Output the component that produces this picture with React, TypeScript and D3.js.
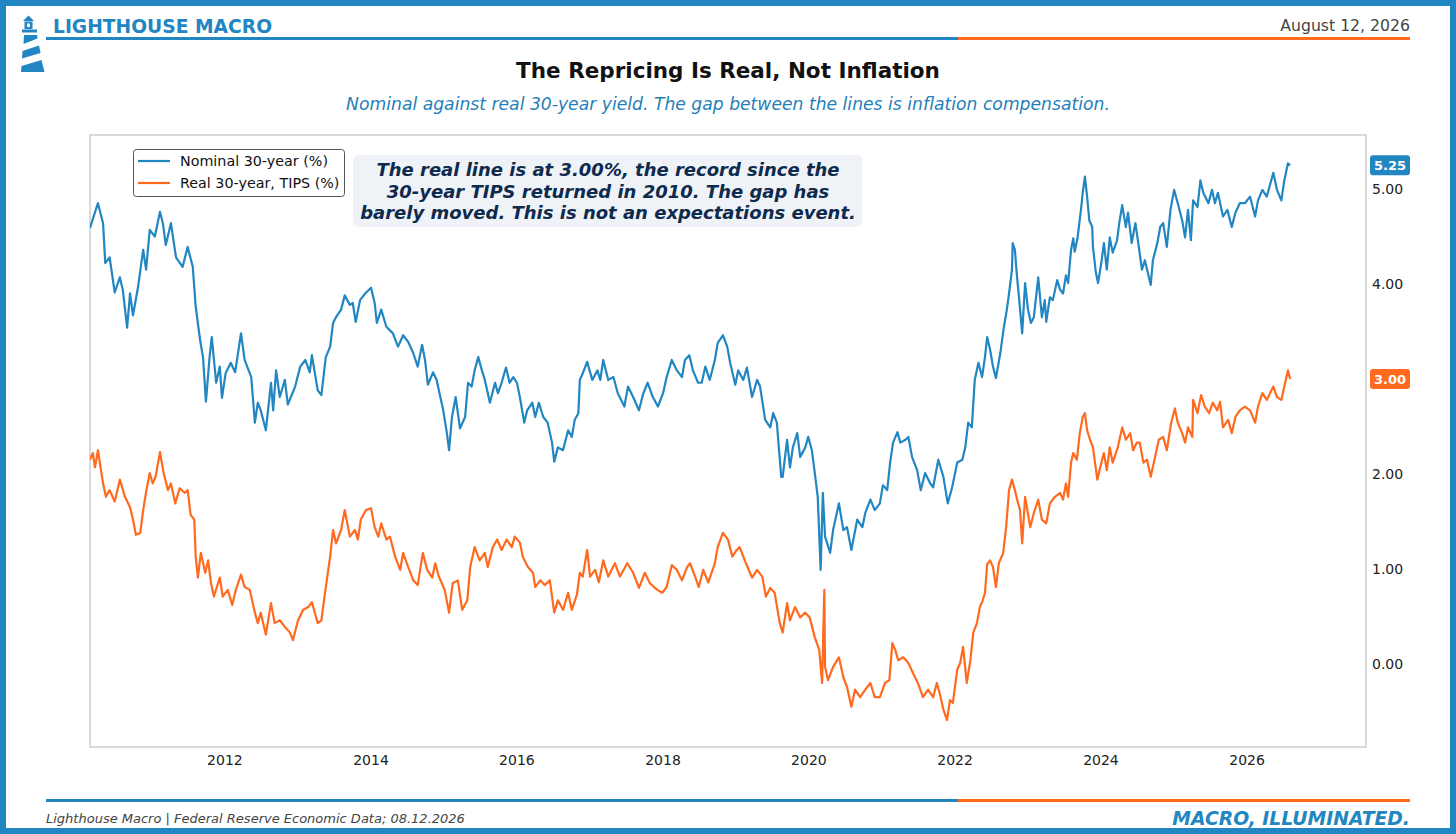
import { useEffect, useRef } from 'react';
import * as d3 from 'd3';

const W = 1456;
const H = 834;
const PLOT = { left: 90, right: 1366, top: 135, bottom: 747 };
const BLUE = '#2186c1';
const ORANGE = '#ff6a1e';
const NAVY = '#0e2a4d';

// Nominal 30-year Treasury yield (%), decimal years
const NOMINAL_T = [
  2010.15, 2010.26, 2010.33, 2010.36, 2010.42, 2010.49, 2010.56, 2010.6, 2010.66, 2010.7, 2010.74, 2010.81, 2010.88, 2010.92, 2010.97,
  2011.04, 2011.11, 2011.15, 2011.19, 2011.26, 2011.33, 2011.42, 2011.49, 2011.56, 2011.6, 2011.66, 2011.7, 2011.74, 2011.79, 2011.82, 2011.88, 2011.93, 2011.96,
  2012.01, 2012.08, 2012.14, 2012.22, 2012.27, 2012.36, 2012.41, 2012.45, 2012.49, 2012.56, 2012.63, 2012.66, 2012.7, 2012.75, 2012.82, 2012.86, 2012.96,
  2013.03, 2013.1, 2013.16, 2013.19, 2013.27, 2013.32, 2013.38, 2013.44, 2013.48, 2013.52, 2013.59, 2013.64, 2013.71, 2013.75, 2013.79, 2013.85, 2013.92,
  2014.0, 2014.05, 2014.08, 2014.14, 2014.21, 2014.3, 2014.37, 2014.44, 2014.51, 2014.58, 2014.64, 2014.7, 2014.74, 2014.78, 2014.85, 2014.9, 2014.95, 2014.99,
  2015.04, 2015.07, 2015.11, 2015.16, 2015.22, 2015.29, 2015.33, 2015.38, 2015.42, 2015.47, 2015.52, 2015.56, 2015.63, 2015.7, 2015.74, 2015.79, 2015.85, 2015.9, 2015.95,
  2016.0, 2016.04, 2016.1, 2016.14, 2016.21, 2016.25, 2016.3, 2016.36, 2016.42, 2016.48, 2016.51, 2016.56, 2016.63, 2016.7, 2016.75, 2016.79, 2016.84, 2016.86, 2016.9, 2016.96,
  2017.03, 2017.1, 2017.14, 2017.18, 2017.25, 2017.32, 2017.38, 2017.47, 2017.52, 2017.59, 2017.67, 2017.73, 2017.79, 2017.86, 2017.93,
  2018.0, 2018.05, 2018.12, 2018.19, 2018.26, 2018.3, 2018.36, 2018.41, 2018.48, 2018.53, 2018.58, 2018.64, 2018.71, 2018.75, 2018.82, 2018.88, 2018.92, 2018.99,
  2019.03, 2019.1, 2019.15, 2019.22, 2019.29, 2019.33, 2019.4, 2019.47, 2019.51, 2019.56, 2019.62, 2019.64, 2019.7, 2019.74, 2019.78, 2019.84, 2019.88, 2019.95, 2019.99,
  2020.04, 2020.08, 2020.12, 2020.16, 2020.19, 2020.22, 2020.29, 2020.33, 2020.41, 2020.47, 2020.52, 2020.58, 2020.66, 2020.73, 2020.77, 2020.84, 2020.9, 2020.97,
  2021.01, 2021.07, 2021.11, 2021.15, 2021.21, 2021.25, 2021.32, 2021.36, 2021.41, 2021.48, 2021.53, 2021.59, 2021.66, 2021.7, 2021.77, 2021.84, 2021.9, 2021.96,
  2022.03, 2022.1, 2022.14, 2022.18, 2022.23, 2022.27, 2022.32, 2022.37, 2022.41, 2022.44, 2022.48, 2022.52, 2022.56, 2022.62, 2022.67, 2022.71, 2022.74, 2022.78, 2022.79, 2022.82, 2022.85, 2022.88, 2022.92, 2022.96,
  2023.0, 2023.04, 2023.08, 2023.14, 2023.19, 2023.23, 2023.25, 2023.3, 2023.34, 2023.4, 2023.44, 2023.48, 2023.52, 2023.55, 2023.59, 2023.62, 2023.64, 2023.68, 2023.73, 2023.75, 2023.78, 2023.81, 2023.84, 2023.88, 2023.89, 2023.93, 2023.96,
  2024.01, 2024.04, 2024.08, 2024.12, 2024.16, 2024.22, 2024.25, 2024.29, 2024.34, 2024.37, 2024.42, 2024.47, 2024.51, 2024.56, 2024.6, 2024.64, 2024.68, 2024.71, 2024.77, 2024.81, 2024.85, 2024.9, 2024.95,
  2025.0, 2025.05, 2025.11, 2025.15, 2025.19, 2025.23, 2025.26, 2025.32, 2025.36, 2025.4, 2025.47, 2025.52, 2025.56, 2025.6, 2025.67, 2025.73, 2025.79, 2025.84, 2025.9, 2025.97,
  2026.04, 2026.11, 2026.15, 2026.21, 2026.27, 2026.36, 2026.41, 2026.47, 2026.51, 2026.56, 2026.59,
];
const NOMINAL = [
  4.59, 4.85, 4.64, 4.22, 4.28, 3.91, 4.07, 3.94, 3.54, 3.9, 3.67, 3.97, 4.36, 4.15, 4.57,
  4.5, 4.76, 4.64, 4.41, 4.64, 4.28, 4.18, 4.39, 4.18, 3.76, 3.41, 3.23, 2.76, 3.23, 3.44, 2.96, 3.13, 2.8,
  3.06, 3.17, 3.07, 3.48, 3.2, 3.02, 2.54, 2.75, 2.67, 2.46, 2.96, 2.67, 3.09, 2.81, 2.99, 2.73, 2.92,
  3.13, 3.2, 3.07, 3.25, 2.88, 2.83, 3.23, 3.34, 3.59, 3.65, 3.73, 3.88, 3.78, 3.8, 3.6, 3.83, 3.9,
  3.96, 3.8, 3.59, 3.73, 3.55, 3.48, 3.34, 3.46, 3.39, 3.27, 3.13, 3.36, 3.2, 2.94, 3.07, 2.99, 2.81, 2.67,
  2.43, 2.25, 2.6, 2.81, 2.48, 2.6, 2.96, 2.92, 3.09, 3.23, 3.09, 2.99, 2.75, 2.96, 2.85, 2.96, 3.12, 2.96, 3.02,
  2.96, 2.81, 2.54, 2.67, 2.75, 2.6, 2.75, 2.6, 2.54, 2.33, 2.13, 2.28, 2.25, 2.46, 2.39, 2.57, 2.64, 2.99, 3.06, 3.18,
  2.99, 3.09, 2.99, 3.2, 2.99, 3.02, 2.85, 2.71, 2.92, 2.81, 2.67, 2.85, 2.96, 2.81, 2.71,
  2.85, 3.02, 3.2, 3.09, 3.02, 3.2, 3.25, 3.09, 2.96, 2.96, 3.13, 2.99, 3.2, 3.38, 3.46, 3.34, 3.17, 2.94,
  3.09, 2.99, 3.12, 2.81, 2.99, 2.92, 2.57, 2.49, 2.64, 2.54, 1.97, 1.97, 2.36, 2.07, 2.28, 2.43, 2.18, 2.28, 2.39,
  2.25, 2.01, 1.76, 0.99, 1.8, 1.34, 1.17, 1.41, 1.69, 1.41, 1.44, 1.2, 1.52, 1.44, 1.59, 1.73, 1.62, 1.69,
  1.88, 1.83, 2.12, 2.33, 2.44, 2.33, 2.36, 2.39, 2.18, 2.04, 1.83, 2.01, 1.9, 1.86, 2.15, 1.97, 1.69, 1.86,
  2.12, 2.15, 2.28, 2.54, 2.49, 2.99, 3.17, 3.02, 3.23, 3.44, 3.31, 3.13, 3.01, 3.27, 3.55, 3.73, 3.9, 4.15, 4.43, 4.36, 4.07, 3.83, 3.48, 4.01,
  3.73, 3.59, 3.65, 4.07, 3.65, 3.83, 3.6, 3.86, 3.83, 4.04, 3.94, 3.9, 4.09, 4.01, 4.36, 4.48, 4.34, 4.49, 4.81, 4.96, 5.13, 4.92, 4.67, 4.6, 4.39, 4.12, 4.01,
  4.25, 4.43, 4.15, 4.49, 4.33, 4.46, 4.64, 4.83, 4.6, 4.75, 4.43, 4.64, 4.43, 4.15, 4.25, 4.12, 3.99, 4.25, 4.43, 4.6, 4.64, 4.39, 4.78,
  4.99, 4.85, 4.67, 4.49, 4.78, 4.46, 4.88, 4.81, 5.09, 4.96, 4.85, 4.99, 4.85, 4.96, 4.71, 4.78, 4.6, 4.75, 4.85, 4.85,
  4.92, 4.71, 4.88, 4.99, 4.92, 5.17, 4.99, 4.88, 5.09, 5.27, 5.25,
];

// Real 30-year yield, TIPS (%)
const REAL_T = [
  2010.15, 2010.19, 2010.22, 2010.26, 2010.33, 2010.37, 2010.42, 2010.49, 2010.56, 2010.63, 2010.7, 2010.74, 2010.78, 2010.84, 2010.88, 2010.92, 2010.97,
  2011.01, 2011.05, 2011.11, 2011.16, 2011.22, 2011.26, 2011.32, 2011.38, 2011.45, 2011.49, 2011.53, 2011.58, 2011.6, 2011.63, 2011.67, 2011.73, 2011.77, 2011.81, 2011.85, 2011.93, 2011.97,
  2012.04, 2012.1, 2012.15, 2012.22, 2012.27, 2012.34, 2012.41, 2012.45, 2012.49, 2012.56, 2012.63, 2012.68, 2012.75, 2012.82, 2012.89, 2012.93,
  2013.0, 2013.07, 2013.14, 2013.19, 2013.27, 2013.32, 2013.37, 2013.44, 2013.48, 2013.52, 2013.59, 2013.64, 2013.71, 2013.78, 2013.82, 2013.86, 2013.93,
  2014.0, 2014.05, 2014.1, 2014.14, 2014.21, 2014.26, 2014.33, 2014.4, 2014.44, 2014.51, 2014.58, 2014.64, 2014.71, 2014.77, 2014.84, 2014.88, 2014.93,
  2015.01, 2015.07, 2015.12, 2015.19, 2015.25, 2015.32, 2015.36, 2015.42, 2015.49, 2015.56, 2015.6, 2015.67, 2015.73, 2015.79, 2015.86, 2015.93, 2015.97,
  2016.04, 2016.08, 2016.15, 2016.22, 2016.25, 2016.32, 2016.38, 2016.45, 2016.51, 2016.56, 2016.63, 2016.7, 2016.75, 2016.82, 2016.86, 2016.9, 2016.96,
  2017.0, 2017.07, 2017.12, 2017.18, 2017.25, 2017.34, 2017.41, 2017.51, 2017.59, 2017.67, 2017.75, 2017.82, 2017.92, 2017.99,
  2018.05, 2018.12, 2018.19, 2018.26, 2018.33, 2018.37, 2018.44, 2018.49, 2018.55, 2018.62, 2018.71, 2018.75, 2018.82, 2018.89, 2018.95,
  2019.01, 2019.05, 2019.12, 2019.22, 2019.29, 2019.36, 2019.41, 2019.47, 2019.53, 2019.6, 2019.64, 2019.7, 2019.74, 2019.81, 2019.88, 2019.95,
  2020.01, 2020.08, 2020.14, 2020.18, 2020.21, 2020.22, 2020.26, 2020.33, 2020.41, 2020.47, 2020.52, 2020.58, 2020.63, 2020.7, 2020.77, 2020.84, 2020.9, 2020.97,
  2021.04, 2021.1, 2021.14, 2021.18, 2021.22, 2021.29, 2021.36, 2021.42, 2021.49, 2021.56, 2021.63, 2021.7, 2021.75, 2021.79, 2021.84, 2021.89, 2021.93, 2021.97,
  2022.03, 2022.07, 2022.11, 2022.16, 2022.21, 2022.25, 2022.3, 2022.34, 2022.38, 2022.41, 2022.44, 2022.48, 2022.52, 2022.56, 2022.6, 2022.66, 2022.7, 2022.74, 2022.78, 2022.82, 2022.85, 2022.89, 2022.92, 2022.96,
  2023.03, 2023.08, 2023.14, 2023.19, 2023.25, 2023.3, 2023.37, 2023.44, 2023.48, 2023.52, 2023.55, 2023.59, 2023.62, 2023.67, 2023.71, 2023.75, 2023.78, 2023.81, 2023.85, 2023.89, 2023.95, 2023.99,
  2024.04, 2024.08, 2024.12, 2024.16, 2024.23, 2024.29, 2024.34, 2024.4, 2024.44, 2024.49, 2024.53, 2024.58, 2024.63, 2024.68, 2024.74, 2024.79, 2024.85, 2024.9, 2024.96,
  2025.01, 2025.05, 2025.11, 2025.15, 2025.19, 2025.25, 2025.26, 2025.32, 2025.37, 2025.42, 2025.48, 2025.53, 2025.59, 2025.63, 2025.67, 2025.74, 2025.79, 2025.84, 2025.9, 2025.97,
  2026.04, 2026.11, 2026.15, 2026.21, 2026.27, 2026.36, 2026.41, 2026.47, 2026.51, 2026.56, 2026.59,
];
const REAL = [
  2.15, 2.22, 2.07, 2.25, 1.9, 1.76, 1.83, 1.71, 1.94, 1.76, 1.65, 1.52, 1.36, 1.38, 1.62, 1.81, 2.01,
  1.9, 1.97, 2.23, 2.01, 1.83, 1.9, 1.69, 1.85, 1.8, 1.83, 1.57, 1.52, 1.13, 0.91, 1.17, 0.96, 1.09, 0.85, 0.71, 0.91, 0.71,
  0.78, 0.62, 0.78, 0.94, 0.81, 0.78, 0.54, 0.43, 0.54, 0.31, 0.64, 0.43, 0.46, 0.39, 0.33, 0.25,
  0.46, 0.57, 0.6, 0.65, 0.43, 0.46, 0.75, 1.13, 1.41, 1.27, 1.41, 1.62, 1.34, 1.41, 1.31, 1.52, 1.62,
  1.64, 1.44, 1.34, 1.48, 1.31, 1.34, 1.13, 0.99, 1.17, 1.02, 0.88, 0.83, 1.17, 0.99, 0.91, 1.06, 0.92,
  0.78, 0.54, 0.85, 0.88, 0.57, 0.67, 1.02, 1.23, 1.09, 1.17, 1.02, 1.23, 1.31, 1.2, 1.31, 1.23, 1.34,
  1.28, 1.13, 1.02, 0.96, 0.81, 0.88, 0.83, 0.88, 0.54, 0.67, 0.57, 0.75, 0.57, 0.73, 0.96, 0.92, 1.2,
  0.92, 0.99, 0.86, 1.09, 0.92, 1.06, 0.92, 1.06, 0.96, 0.8, 0.96, 0.85, 0.78, 0.75,
  0.81, 1.04, 0.99, 0.88, 1.02, 1.06, 0.92, 0.81, 0.99, 0.86, 1.06, 1.23, 1.38, 1.31, 1.13,
  1.2, 1.23, 1.09, 0.91, 0.99, 0.92, 0.71, 0.8, 0.75, 0.43, 0.33, 0.64, 0.46, 0.6, 0.49, 0.54,
  0.49, 0.28, 0.15, -0.2, 0.78, -0.03, -0.17, -0.03, 0.07, -0.14, -0.24, -0.45, -0.27, -0.35, -0.27, -0.2, -0.35, -0.35,
  -0.2, -0.17, 0.22, 0.15, 0.04, 0.07, 0.01, -0.09, -0.2, -0.35, -0.27, -0.35, -0.2, -0.31, -0.48, -0.59, -0.38, -0.41,
  -0.06, 0.01, 0.18, -0.2, 0.04, 0.33, 0.43, 0.6, 0.67, 0.75, 1.05, 1.09, 1.02, 0.81, 1.06, 1.17, 1.44, 1.83, 1.94, 1.83, 1.73, 1.62, 1.27, 1.76,
  1.44, 1.59, 1.73, 1.52, 1.48, 1.69, 1.76, 1.8, 1.73, 1.9, 1.76, 2.12, 2.22, 2.15, 2.43, 2.6, 2.64, 2.46, 2.36, 2.28, 1.94, 2.07,
  2.22, 2.04, 2.28, 2.12, 2.28, 2.49, 2.36, 2.43, 2.25, 2.33, 2.33, 2.12, 2.15, 1.97, 2.18, 2.36, 2.39, 2.25, 2.54,
  2.69, 2.54, 2.43, 2.33, 2.49, 2.39, 2.78, 2.64, 2.83, 2.71, 2.64, 2.75, 2.67, 2.76, 2.49, 2.57, 2.43, 2.6, 2.67, 2.71,
  2.67, 2.54, 2.71, 2.85, 2.78, 2.92, 2.81, 2.78, 2.92, 3.09, 3.0,
];

const X_TICKS = [2012, 2014, 2016, 2018, 2020, 2022, 2024, 2026];
const Y_TICKS = [0, 1, 2, 3, 4, 5];
const LAST_NOMINAL = '5.25';
const LAST_REAL = '3.00';
const SERIES_NAMES = ['Nominal 30-year (%)', 'Real 30-year, TIPS (%)'];
const NOTE_LINES = [
  'The real line is at 3.00%, the record since the',
  '30-year TIPS returned in 2010. The gap has',
  'barely moved. This is not an expectations event.',
];

function toDate(y: number): Date {
  const yr = Math.floor(y);
  const start = Date.UTC(yr, 0, 1);
  const end = Date.UTC(yr + 1, 0, 1);
  return new Date(start + (y - yr) * (end - start));
}

const FONT = 'DejaVu Sans, sans-serif';

export default function App() {
  const ref = useRef<SVGSVGElement>(null);

  useEffect(() => {
    if (!ref.current) return;
    const svg = d3.select(ref.current);
    svg.selectAll('*').remove();
    svg.attr('width', W).attr('height', H).style('font-family', FONT);

    svg.append('rect').attr('width', W).attr('height', H).attr('fill', '#fff');
    // outer frame
    svg.append('rect').attr('x', 3).attr('y', 3).attr('width', W - 6).attr('height', H - 6)
      .attr('fill', 'none').attr('stroke', BLUE).attr('stroke-width', 6);

    // logo
    const logo = svg.append('g').attr('fill', BLUE);
    logo.append('path').attr('d', 'M23,21 L28.5,15.5 L34,21 Z');
    logo.append('path').attr('d', 'M24.5,21.5 H32.5 V29 H24.5 Z M27,23.5 V27 H30 V23.5 Z').attr('fill-rule', 'evenodd');
    logo.append('rect').attr('x', 22).attr('y', 29.5).attr('width', 15).attr('height', 3);
    logo.append('path').attr('d', 'M24,35 L37,35 L37.5,38.5 L23.5,44 Z');
    logo.append('path').attr('d', 'M22.5,51 L39,45.5 L40.5,53 L22,58.5 Z');
    logo.append('path').attr('d', 'M21.5,66 L41.5,60 L44.5,72 L21,72 Z');

    // header
    svg.append('text').attr('x', 53).attr('y', 33).attr('font-size', 18.7).attr('font-weight', 'bold')
      .attr('fill', BLUE).text('LIGHTHOUSE MACRO');
    svg.append('text').attr('x', 1410).attr('y', 31).attr('font-size', 15.7).attr('text-anchor', 'end')
      .attr('fill', '#444').text('August 12, 2026');
    svg.append('line').attr('x1', 46).attr('x2', 958).attr('y1', 38.5).attr('y2', 38.5).attr('stroke', BLUE).attr('stroke-width', 3);
    svg.append('line').attr('x1', 958).attr('x2', 1410).attr('y1', 38.5).attr('y2', 38.5).attr('stroke', ORANGE).attr('stroke-width', 3);

    svg.append('text').attr('x', 728).attr('y', 78).attr('text-anchor', 'middle').attr('font-size', 21.5)
      .attr('font-weight', 'bold').attr('fill', '#111').text('The Repricing Is Real, Not Inflation');
    svg.append('text').attr('x', 728).attr('y', 110).attr('text-anchor', 'middle').attr('font-size', 17.2)
      .attr('font-style', 'italic').attr('fill', '#1f7fb8')
      .text('Nominal against real 30-year yield. The gap between the lines is inflation compensation.');

    // scales
    const x = d3.scaleTime().domain([toDate(2010.151), toDate(2027.63)]).range([PLOT.left, PLOT.right]);
    const y = d3.scaleLinear().domain([-0.874, 5.568]).range([PLOT.bottom, PLOT.top]);

    svg.append('rect').attr('x', PLOT.left).attr('y', PLOT.top)
      .attr('width', PLOT.right - PLOT.left).attr('height', PLOT.bottom - PLOT.top)
      .attr('fill', 'none').attr('stroke', '#b5b5b5').attr('stroke-width', 1);

    // x tick labels
    svg.append('g').selectAll('text').data(X_TICKS).join('text')
      .attr('x', d => x(toDate(d))).attr('y', 765).attr('text-anchor', 'middle')
      .attr('font-size', 14).attr('fill', '#222').text(d => String(d));

    // right y labels
    svg.append('g').selectAll('text').data(Y_TICKS).join('text')
      .attr('x', 1372).attr('y', d => y(d)).attr('dy', '0.36em')
      .attr('font-size', 14).attr('fill', '#222').text(d => d.toFixed(2));

    const clip = svg.append('clipPath').attr('id', 'plotclip');
    clip.append('rect').attr('x', PLOT.left).attr('y', PLOT.top)
      .attr('width', PLOT.right - PLOT.left).attr('height', PLOT.bottom - PLOT.top);

    const line = d3.line<[number, number]>().x(d => x(toDate(d[0]))).y(d => y(d[1]));
    const nomPts = NOMINAL_T.map((t, i) => [t, NOMINAL[i]] as [number, number]);
    const realPts = REAL_T.map((t, i) => [t, REAL[i]] as [number, number]);

    const lines = svg.append('g').attr('clip-path', 'url(#plotclip)');
    lines.append('path').datum(nomPts).attr('d', line).attr('fill', 'none')
      .attr('stroke', BLUE).attr('stroke-width', 2.2).attr('stroke-linejoin', 'round');
    lines.append('path').datum(realPts).attr('d', line).attr('fill', 'none')
      .attr('stroke', ORANGE).attr('stroke-width', 2.2).attr('stroke-linejoin', 'round');

    // last-value badges
    const badge = (val: string, color: string) => {
      const cy = y(parseFloat(val));
      svg.append('rect').attr('x', 1370).attr('y', cy - 10).attr('width', 40).attr('height', 20)
        .attr('rx', 3).attr('fill', color);
      svg.append('text').attr('x', 1390).attr('y', cy).attr('dy', '0.36em').attr('text-anchor', 'middle')
        .attr('font-size', 13).attr('font-weight', 'bold').attr('fill', '#fff').text(val);
    };
    badge(LAST_NOMINAL, BLUE);
    badge(LAST_REAL, ORANGE);

    // legend
    const lg = svg.append('g');
    lg.append('rect').attr('x', 133.5).attr('y', 149.5).attr('width', 211).attr('height', 47).attr('rx', 3)
      .attr('fill', '#fff').attr('fill-opacity', 0.9).attr('stroke', '#555');
    [BLUE, ORANGE].forEach((c, i) => {
      const ly = 161 + i * 22;
      lg.append('line').attr('x1', 138).attr('x2', 170).attr('y1', ly).attr('y2', ly)
        .attr('stroke', c).attr('stroke-width', 2.2);
      lg.append('text').attr('x', 180).attr('y', ly).attr('dy', '0.36em').attr('font-size', 14.3)
        .attr('fill', '#111').text(SERIES_NAMES[i]);
    });

    // annotation
    svg.append('rect').attr('x', 353).attr('y', 155).attr('width', 509).attr('height', 72).attr('rx', 5)
      .attr('fill', '#eff3f8');
    svg.append('g').selectAll('text').data(NOTE_LINES).join('text')
      .attr('x', 608).attr('y', (_, i) => 170 + i * 21.5).attr('dy', '0.36em').attr('text-anchor', 'middle')
      .attr('font-size', 18).attr('font-weight', 'bold').attr('font-style', 'italic').attr('fill', NAVY)
      .text(d => d);

    // footer
    svg.append('line').attr('x1', 46).attr('x2', 958).attr('y1', 800.5).attr('y2', 800.5).attr('stroke', BLUE).attr('stroke-width', 3);
    svg.append('line').attr('x1', 958).attr('x2', 1410).attr('y1', 800.5).attr('y2', 800.5).attr('stroke', ORANGE).attr('stroke-width', 3);
    svg.append('text').attr('x', 46).attr('y', 823).attr('font-size', 13).attr('font-style', 'italic')
      .attr('fill', '#444').text('Lighthouse Macro | Federal Reserve Economic Data; 08.12.2026');
    svg.append('text').attr('x', 1410).attr('y', 825).attr('text-anchor', 'end').attr('font-size', 18.8)
      .attr('font-weight', 'bold').attr('font-style', 'italic').attr('fill', BLUE).text('MACRO, ILLUMINATED.');
  }, []);

  return (
    <>
      <style>{'body{margin:0}'}</style>
      <svg ref={ref} style={{ display: 'block' }} />
    </>
  );
}
